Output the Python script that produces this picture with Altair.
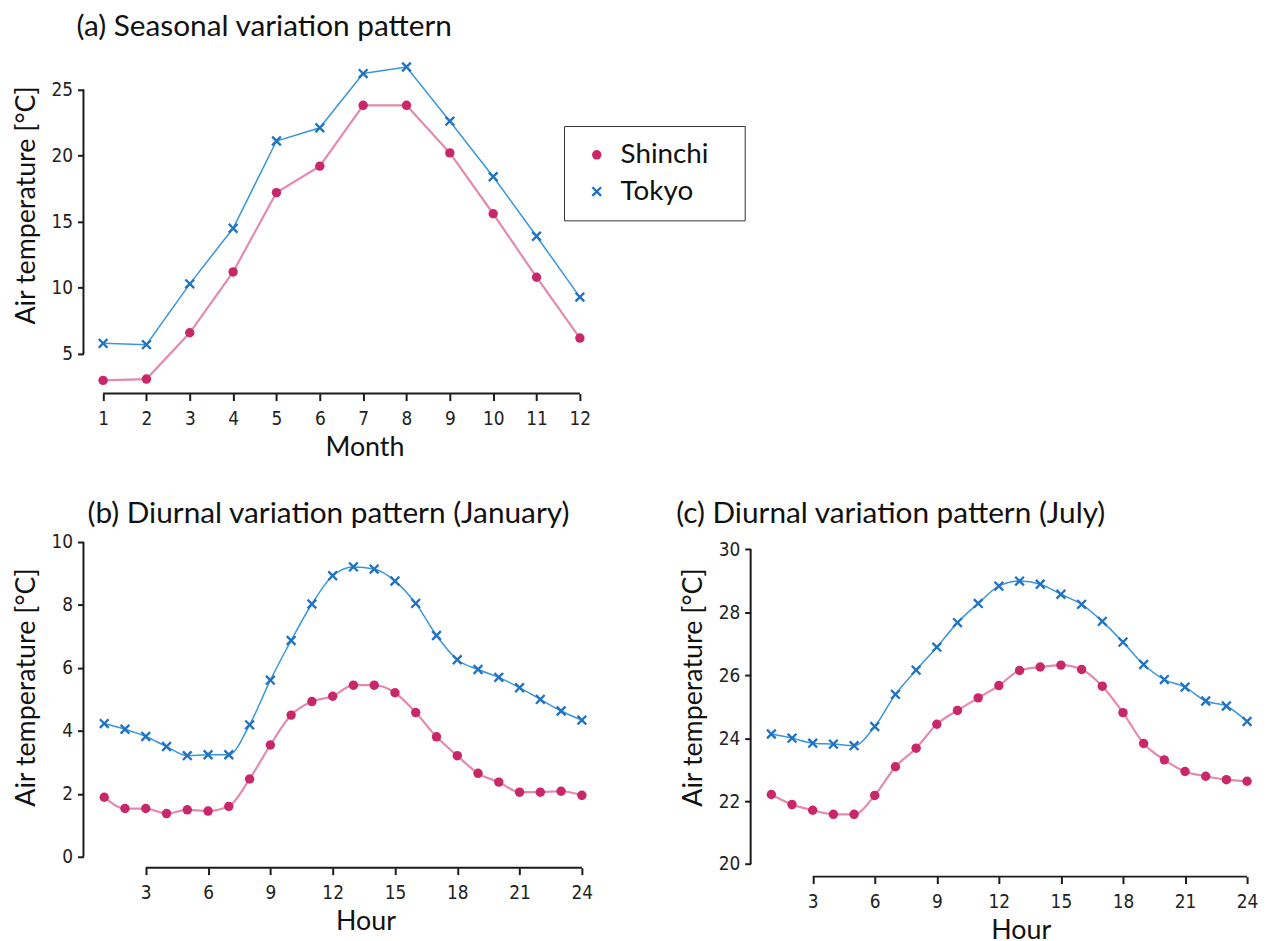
import altair as alt
import pandas as pd

SERIES = ["Shinchi", "Tokyo"]

MONTHS = list(range(1, 13))
SHINCHI_MONTH = [3.0, 3.1, 6.6, 11.2, 17.2, 19.2, 23.8, 23.8, 20.2, 15.6, 10.8, 6.2]
TOKYO_MONTH = [5.8, 5.7, 10.3, 14.5, 21.1, 22.1, 26.2, 26.7, 22.6, 18.4, 13.9, 9.3]

HOURS = list(range(1, 25))
SHINCHI_JAN = [1.89, 1.53, 1.53, 1.37, 1.49, 1.45, 1.60, 2.47, 3.55, 4.50, 4.93, 5.10,
               5.45, 5.45, 5.21, 4.58, 3.81, 3.21, 2.65, 2.37, 2.05, 2.05, 2.08, 1.95]
TOKYO_JAN = [4.23, 4.05, 3.82, 3.50, 3.21, 3.24, 3.24, 4.19, 5.61, 6.87, 8.03, 8.93,
             9.21, 9.14, 8.76, 8.05, 7.03, 6.26, 5.95, 5.70, 5.37, 5.00, 4.63, 4.34]
SHINCHI_JUL = [22.21, 21.89, 21.71, 21.58, 21.58, 22.18, 23.09, 23.68, 24.44, 24.88, 25.28, 25.67,
               26.15, 26.26, 26.32, 26.18, 25.65, 24.81, 23.83, 23.31, 22.94, 22.79, 22.68, 22.63]
TOKYO_JUL = [24.13, 24.00, 23.84, 23.81, 23.76, 24.37, 25.39, 26.16, 26.89, 27.67, 28.28, 28.83,
             28.99, 28.89, 28.57, 28.25, 27.71, 27.05, 26.34, 25.86, 25.62, 25.18, 25.02, 24.53]

MONTH_TICKS = MONTHS
HOUR_TICKS = [3, 6, 9, 12, 15, 18, 21, 24]
TEMP_TICKS_A = [5, 10, 15, 20, 25]
TEMP_TICKS_B = [0, 2, 4, 6, 8, 10]
TEMP_TICKS_C = [20, 22, 24, 26, 28, 30]

PINK_PT, PINK_LN = "#c8286a", "#e48aae"
BLUE_PT, BLUE_LN = "#1f72c4", "#3a96dc"
AX = "#1a1a1a"
FONT = "Lato"
NARROW = "Liberation Sans Narrow, DejaVu Sans Condensed, sans-serif"
X_PATH = ("M-1.1,-0.75L-0.75,-1.1L0,-0.35L0.75,-1.1L1.1,-0.75L0.35,0L1.1,0.75"
          "L0.75,1.1L0,0.35L-0.75,1.1L-1.1,0.75L-0.35,0Z")


def long_df(xs, a, b):
    return pd.DataFrame({
        "x": list(xs) + list(xs),
        "y": list(a) + list(b),
        "series": ["Shinchi"] * len(xs) + ["Tokyo"] * len(xs),
    })


def panel(df, xdom, ydom, xticks, yticks, xframe, yframe, w, h, title, tdx, toff,
          xtitle, xtitle_x, ytitle_y, interp, legend):
    xs = alt.Scale(domain=xdom, nice=False, zero=False)
    ys = alt.Scale(domain=ydom, nice=False, zero=False)
    xaxis = alt.Axis(values=xticks, title=xtitle, titleX=xtitle_x, titleY=41,
                     titleBaseline="top", labelAngle=0)
    yaxis = alt.Axis(values=yticks, title="Air temperature [°C]", titleX=-43,
                     titleY=ytitle_y, titleBaseline="bottom")
    line_s = alt.Chart(df).transform_filter(alt.datum.series == "Shinchi").mark_line(
        interpolate=interp, color=PINK_LN, strokeWidth=2.2).encode(
        x=alt.X("x:Q", scale=xs, axis=xaxis),
        y=alt.Y("y:Q", scale=ys, axis=yaxis),
    )
    line_t = alt.Chart(df).transform_filter(alt.datum.series == "Tokyo").mark_line(
        interpolate=interp, color=BLUE_LN, strokeWidth=1.5).encode(
        x="x:Q", y="y:Q",
    )
    if legend is None:
        color = alt.Color("series:N", scale=alt.Scale(domain=SERIES, range=[PINK_PT, BLUE_PT]))
        shape = alt.Shape("series:N", scale=alt.Scale(domain=SERIES, range=["circle", X_PATH]))
    else:
        color = alt.Color("series:N", scale=alt.Scale(domain=SERIES, range=[PINK_PT, BLUE_PT]), legend=legend)
        shape = alt.Shape("series:N", scale=alt.Scale(domain=SERIES, range=["circle", X_PATH]), legend=legend)
    pts = alt.Chart(df).mark_point(filled=True, size=90, opacity=1).encode(
        x="x:Q", y="y:Q", color=color, shape=shape,
    )
    fx = pd.DataFrame({"x0": [xframe[0]], "x1": [xframe[1]], "yb": [ydom[0]]})
    fy = pd.DataFrame({"y0": [yframe[0]], "y1": [yframe[1]], "xl": [xdom[0]]})
    xr = alt.Chart(fx).mark_rule(color=AX, strokeWidth=2).encode(
        x="x0:Q", x2="x1:Q", y="yb:Q")
    yr = alt.Chart(fy).mark_rule(color=AX, strokeWidth=2).encode(
        x="xl:Q", y="y0:Q", y2="y1:Q")
    return alt.layer(line_s, line_t, pts, xr, yr).properties(
        width=w, height=h,
        title=alt.TitleParams(title, anchor="start", frame="group", dx=tdx, offset=toff,
                              baseline="top", fontSize=30, font=FONT,
                              fontWeight="normal", color="#111"),
    )


legend_a = alt.Legend(title=None, orient="none", legendX=484, legendY=63.5,
                      strokeColor="#333", fillColor="white", padding=15,
                      symbolOffset=4, labelOffset=10, rowPadding=9,
                      labelFont=FONT, labelFontSize=28, labelColor="#111",
                      labelExpr="datum.label + '\u2800'",
                      symbolSize=90, symbolStrokeWidth=0)

pa = panel(long_df(MONTHS, SHINCHI_MONTH, TOKYO_MONTH), [0.547, 12.0], [2, 27],
           MONTH_TICKS, TEMP_TICKS_A, [1, 12], [5, 25], 500, 333,
           "(a) Seasonal variation pattern", -7, 19.5, "Month", 283, 143, "linear", legend_a)
pb = panel(long_df(HOURS, SHINCHI_JAN, TOKYO_JAN), [0, 24], [-0.35, 10],
           HOUR_TICKS, TEMP_TICKS_B, [3, 24], [0, 10], 502, 328,
           "(b) Diurnal variation pattern (January)", 4, 4, "Hour", 284, 146, "monotone", None)
pc = panel(long_df(HOURS, SHINCHI_JUL, TOKYO_JUL), [0, 24], [19.6, 30.23],
           HOUR_TICKS, TEMP_TICKS_C, [3, 24], [20, 30], 500, 337,
           "(c) Diurnal variation pattern (July)", -75, 11.5, "Hour", 272, 146, "monotone", None)

bottom = alt.hconcat(pb, pc, spacing=84)
chart = alt.vconcat(pa, bottom, spacing=38.5).configure_view(stroke=None).configure_axis(
    domain=False, grid=False, tickColor=AX, tickWidth=2, labelFlush=False,
    labelFont=NARROW, labelFontSize=19, labelColor="#222",
    titleFont=FONT, titleFontSize=27, titleFontWeight="normal", titleColor="#111",
).configure_axisX(tickSize=7, labelPadding=9).configure_axisY(tickSize=6, labelPadding=5).properties(
    padding={"left": 4, "top": 1, "right": 0, "bottom": 0}
)

chart.save("out.html", embed_options={"renderer": "svg", "actions": False})
